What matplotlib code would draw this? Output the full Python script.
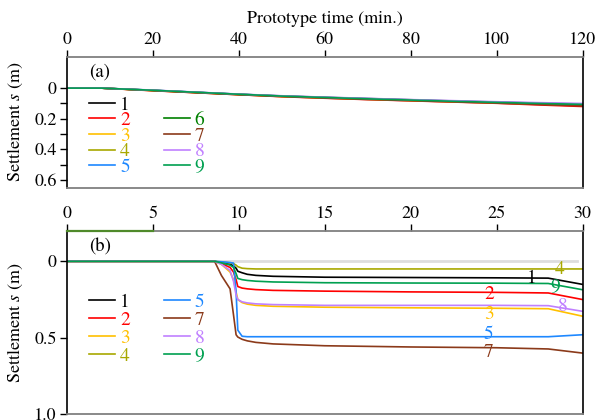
import matplotlib
matplotlib.use("Agg")
import matplotlib.pyplot as plt
from matplotlib import font_manager
from matplotlib.lines import Line2D

names_avail = {f.name for f in font_manager.fontManager.ttflist}
serif = 'DejaVu Serif'
for cand in ['TeX Gyre Termes', 'Liberation Serif', 'Times New Roman', 'Nimbus Roman']:
    if cand in names_avail:
        serif = cand
        break

plt.rcParams['font.family'] = [serif, 'DejaVu Serif']
plt.rcParams['mathtext.fontset'] = 'custom'
plt.rcParams['mathtext.rm'] = serif
plt.rcParams['mathtext.it'] = serif + ':italic'

# ---------------- data ----------------
series_names = ['1', '2', '3', '4', '5', '6', '7', '8', '9']
colors = ['#000000', '#ff0000', '#ffc000', '#a8a800', '#1e88ff',
          '#008000', '#8b3a1a', '#c080ff', '#00a050']

t_a = [0, 8, 20, 30, 40, 50, 60, 70, 80, 90, 100, 110, 120]
a1 = [0, 0, 0.015, 0.028, 0.041, 0.053, 0.062, 0.071, 0.079, 0.087, 0.094, 0.101, 0.108]
a2 = [0, 0, 0.017, 0.030, 0.043, 0.056, 0.066, 0.075, 0.083, 0.091, 0.099, 0.110, 0.120]
a3 = [0, 0, 0.016, 0.029, 0.042, 0.055, 0.064, 0.073, 0.081, 0.089, 0.096, 0.104, 0.112]
a4 = [0, 0, 0.015, 0.028, 0.041, 0.053, 0.063, 0.071, 0.079, 0.087, 0.094, 0.102, 0.109]
a5 = [0, 0, 0.014, 0.027, 0.040, 0.052, 0.061, 0.069, 0.077, 0.085, 0.092, 0.099, 0.105]
a6 = [0, 0, 0.014, 0.027, 0.040, 0.051, 0.060, 0.068, 0.076, 0.084, 0.091, 0.098, 0.104]
a7 = [0, 0, 0.016, 0.030, 0.043, 0.055, 0.065, 0.074, 0.082, 0.090, 0.098, 0.107, 0.116]
a8 = [0, 0, 0.013, 0.026, 0.039, 0.050, 0.059, 0.067, 0.075, 0.082, 0.089, 0.095, 0.100]
a9 = [0, 0, 0.014, 0.027, 0.040, 0.052, 0.061, 0.070, 0.078, 0.086, 0.093, 0.100, 0.106]
series_a = [a1, a2, a3, a4, a5, a6, a7, a8, a9]

t_b = [0, 8.6, 9.0, 9.5, 9.7, 9.85, 9.95, 10.2, 10.5, 11, 12, 15, 20, 25, 28, 30]
b1 = [0, 0, 0.010, 0.020, 0.030, 0.045, 0.065, 0.075, 0.085, 0.092, 0.098, 0.104, 0.106, 0.108, 0.110, 0.151]
b2 = [0, 0, 0.015, 0.040, 0.070, 0.120, 0.165, 0.175, 0.180, 0.185, 0.190, 0.195, 0.200, 0.203, 0.207, 0.250]
b3 = [0, 0, 0.020, 0.070, 0.120, 0.200, 0.250, 0.270, 0.280, 0.288, 0.294, 0.300, 0.304, 0.307, 0.310, 0.359]
b4 = [0, 0, 0.005, 0.010, 0.015, 0.025, 0.035, 0.045, 0.048, 0.050, 0.050, 0.050, 0.050, 0.050, 0.050, 0.050]
b5 = [0, 0, 0.003, 0.008, 0.012, 0.200, 0.450, 0.490, 0.493, 0.493, 0.493, 0.493, 0.493, 0.493, 0.493, 0.480]
b7 = [0, 0, 0.093, 0.180, 0.350, 0.480, 0.495, 0.510, 0.520, 0.530, 0.540, 0.552, 0.560, 0.565, 0.573, 0.600]
b8 = [0, 0, 0.020, 0.060, 0.130, 0.220, 0.250, 0.265, 0.272, 0.278, 0.283, 0.288, 0.288, 0.288, 0.290, 0.327]
b9 = [0, 0, 0.010, 0.025, 0.040, 0.080, 0.112, 0.120, 0.125, 0.130, 0.135, 0.140, 0.142, 0.143, 0.145, 0.186]
names_b = ['1', '2', '3', '4', '5', '7', '8', '9']
series_b = [b1, b2, b3, b4, b5, b7, b8, b9]
zero_ref_t = [0, 29.7]
zero_ref_v = [0, 0]
b6_t = [0, 5]
b6_v = [-0.2, -0.2]

label_pos_b = {'1': (27.05, 0.113), '4': (28.65, 0.055), '9': (28.4, 0.168),
               '2': (24.55, 0.218), '8': (28.85, 0.293), '3': (24.55, 0.348),
               '5': (24.5, 0.481), '7': (24.5, 0.597)}

xticks_a = [0, 20, 40, 60, 80, 100, 120]
yticks_a = [0, 0.2, 0.4, 0.6]
yticklabels_a = ['0', '0.2', '0.4', '0.6']
yminor_a = [0.1, 0.3, 0.5]
xticks_b = [0, 5, 10, 15, 20, 25, 30]
yticks_b = [0, 0.5, 1.0]
yticklabels_b = ['0', '0.5', '1.0']

color_of = dict(zip(series_names, colors))

# ---------------- figure ----------------
fig = plt.figure(figsize=(5.99, 4.20), dpi=100)
axA = fig.add_axes([0.1113, 0.5531, 0.8614, 0.3119])
axB = fig.add_axes([0.1113, 0.0136, 0.8614, 0.4371])

FS = 13
LFS = 14

def style_axes(ax):
    ax.xaxis.tick_top()
    for side in ['top', 'bottom']:
        ax.spines[side].set_color('#808080')
        ax.spines[side].set_linewidth(1.3)
    for side in ['left', 'right']:
        ax.spines[side].set_color('black')
        ax.spines[side].set_linewidth(1.2)
    ax.tick_params(axis='x', which='both', top=True, bottom=False, direction='out',
                   length=5, width=1, pad=1.5, labelsize=FS, colors='black')
    ax.tick_params(axis='y', which='both', left=True, right=False, direction='out',
                   length=5, width=1, pad=2, labelsize=FS)

for name, vals in zip(series_names, series_a):
    axA.plot(t_a, vals, color=color_of[name], lw=1.2, label=name)
axA.set_xlim(0, 120)
axA.set_ylim(0.65, -0.205)
axA.set_xticks(xticks_a)
axA.set_yticks(yticks_a)
axA.set_yticklabels(yticklabels_a)
axA.set_yticks(yminor_a, minor=True)
style_axes(axA)
axA.xaxis.set_label_position('top')
axA.set_xlabel('Prototype time (min.)', fontsize=FS, labelpad=6)
axA.set_ylabel('Settlement $s$ (m)', fontsize=FS)
axA.yaxis.set_label_coords(-0.08, 0.5)
axA.text(0.043, 0.885, '(a)', transform=axA.transAxes, fontsize=FS + 0.5, va='center', ha='left')

hA = axA.get_lines()
blank = Line2D([], [], color='none')
handlesA = hA[:5] + [blank] + hA[5:]
labelsA = series_names[:5] + [''] + series_names[5:]
legA = axA.legend(handlesA, labelsA, ncol=2, loc='upper left', bbox_to_anchor=(0.043, 0.70),
                  frameon=False, fontsize=LFS, handlelength=1.35, handletextpad=0.25,
                  columnspacing=1.75, labelspacing=-0.105, borderpad=0, borderaxespad=0,
                  labelcolor='linecolor')

axB.plot(zero_ref_t, zero_ref_v, color='#dddddd', lw=2.0, zorder=1)
axB.plot(b6_t, b6_v, color='#4f8a2a', lw=1.6, zorder=5, clip_on=False)
linesB = []
for name, vals in zip(names_b, series_b):
    ln, = axB.plot(t_b, vals, color=color_of[name], lw=1.2, label=name, zorder=2)
    linesB.append(ln)
for name in names_b:
    tx, ty = label_pos_b[name]
    axB.text(tx, ty, name, color=color_of[name], fontsize=LFS, ha='center', va='center')
axB.set_xlim(0, 30)
axB.set_ylim(1.0, -0.2)
axB.set_xticks(xticks_b)
axB.set_yticks(yticks_b)
axB.set_yticklabels(yticklabels_b)
style_axes(axB)
axB.set_ylabel('Settlement $s$ (m)', fontsize=FS)
axB.yaxis.set_label_coords(-0.08, 0.5)
axB.text(0.043, 0.913, '(b)', transform=axB.transAxes, fontsize=FS + 0.5, va='center', ha='left')

legB = axB.legend(linesB, names_b, ncol=2, loc='upper left', bbox_to_anchor=(0.043, 0.661),
                  frameon=False, fontsize=LFS, handlelength=1.35, handletextpad=0.25,
                  columnspacing=1.75, labelspacing=0.02, borderpad=0, borderaxespad=0,
                  labelcolor='linecolor')

fig.savefig('out.png', dpi=100)
